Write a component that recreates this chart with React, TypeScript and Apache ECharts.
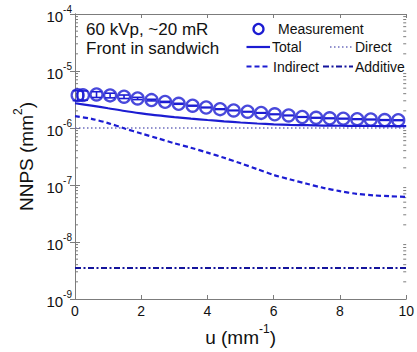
import React, { useEffect, useRef } from 'react';
import * as echarts from 'echarts';

// Spatial frequency grid for the model curves (mm^-1)
const modelFreq = [0, 0.5, 1, 1.5, 2, 2.5, 3, 3.5, 4, 4.5, 5, 5.5, 6, 6.5, 7, 7.5, 8, 8.5, 9, 9.5, 10];
// Model NNPS components (mm^2)
const totalNnps = [2.72e-6, 2.47e-6, 2.22e-6, 1.99e-6, 1.81e-6, 1.66e-6, 1.55e-6, 1.46e-6, 1.38e-6, 1.31e-6, 1.25e-6, 1.2e-6, 1.16e-6, 1.135e-6, 1.12e-6, 1.105e-6, 1.095e-6, 1.09e-6, 1.085e-6, 1.08e-6, 1.08e-6];
const directNnps = [1e-6, 1e-6, 1e-6, 1e-6, 1e-6, 1e-6, 1e-6, 1e-6, 1e-6, 1e-6, 1e-6, 1e-6, 1e-6, 1e-6, 1e-6, 1e-6, 1e-6, 1e-6, 1e-6, 1e-6, 1e-6];
const indirectNnps = [1.61e-6, 1.45e-6, 1.22e-6, 9.8e-7, 8.0e-7, 6.6e-7, 5.4e-7, 4.5e-7, 3.7e-7, 3.0e-7, 2.4e-7, 1.9e-7, 1.5e-7, 1.25e-7, 1.05e-7, 8.9e-8, 7.8e-8, 7.0e-8, 6.6e-8, 6.35e-8, 6.2e-8];
const additiveNnps = [3.5e-9, 3.5e-9, 3.5e-9, 3.5e-9, 3.5e-9, 3.5e-9, 3.5e-9, 3.5e-9, 3.5e-9, 3.5e-9, 3.5e-9, 3.5e-9, 3.5e-9, 3.5e-9, 3.5e-9, 3.5e-9, 3.5e-9, 3.5e-9, 3.5e-9, 3.5e-9, 3.5e-9];

// Measured NNPS with error bars
const measuredFreq = [0.08, 0.24, 0.65, 1.06, 1.48, 1.89, 2.31, 2.72, 3.13, 3.55, 3.96, 4.38, 4.79, 5.21, 5.62, 6.03, 6.45, 6.86, 7.28, 7.69, 8.1, 8.52, 8.93, 9.35, 9.76];
const measuredNnps = [3.77e-6, 3.77e-6, 3.88e-6, 3.73e-6, 3.54e-6, 3.3e-6, 3.09e-6, 2.87e-6, 2.66e-6, 2.46e-6, 2.29e-6, 2.14e-6, 2.03e-6, 1.93e-6, 1.84e-6, 1.74e-6, 1.66e-6, 1.56e-6, 1.51e-6, 1.48e-6, 1.46e-6, 1.43e-6, 1.41e-6, 1.38e-6, 1.37e-6];
const measuredErr = [7.5e-7, 7.0e-7, 4.5e-7, 3.5e-7, 2.5e-7, 1.5e-7, 1.0e-7, 6e-8, 5e-8, 4e-8, 3e-8, 3e-8, 2e-8, 2e-8, 2e-8, 2e-8, 2e-8, 2e-8, 2e-8, 2e-8, 2e-8, 2e-8, 2e-8, 2e-8, 2e-8];

// Axis ranges and ticks
const yMin = 1e-9;
const yMax = 1e-4;
const yDecades = [-9, -8, -7, -6, -5];
const minorMultipliers = [2, 3, 4, 5, 6, 7, 8, 9];
const xMin = 0;
const xMax = 10;
const xStep = 2;

const FONT = '"Liberation Sans", Arial, Helvetica, sans-serif';
const BLUE = '#1c1cd2';
const DARK_BLUE = '#14149c';
const DOT_BLUE = '#6e6ebe';
const AXIS_GRAY = '#7c7c7c';

const pairs = (xs: number[], ys: number[]) => xs.map((x, i) => [x, ys[i]]);

export default function App() {
  const ref = useRef<HTMLDivElement>(null);

  useEffect(() => {
    if (!ref.current) return;
    const chart = echarts.init(ref.current, undefined, { renderer: 'svg' });

    const minorTicks: number[] = [];
    yDecades.forEach((p) => minorMultipliers.forEach((m) => minorTicks.push(m * Math.pow(10, p))));

    const axisLineStyle = { color: AXIS_GRAY, width: 1 };

    const option: any = {
      animation: false,
      backgroundColor: '#ffffff',
      grid: { left: 75, right: 5, top: 14, bottom: 51, containLabel: false },
      xAxis: [
        {
          type: 'value',
          min: xMin,
          max: xMax,
          interval: xStep,
          position: 'bottom',
          axisLine: { show: true, lineStyle: axisLineStyle },
          axisTick: { show: true, inside: true, length: 4, lineStyle: axisLineStyle },
          splitLine: { show: false },
          axisLabel: { color: '#111', fontFamily: FONT, fontSize: 14, margin: 5 },
          name: '{t|u (mm}{s|-1}{t|)}',
          nameLocation: 'middle',
          nameGap: 24,
          nameTextStyle: {
            rich: {
              t: { fontFamily: FONT, fontSize: 19, color: '#111', lineHeight: 24, verticalAlign: 'bottom' },
              s: { fontFamily: FONT, fontSize: 12, color: '#111', lineHeight: 12, verticalAlign: 'top' },
            },
          },
        },
        {
          type: 'value',
          min: xMin,
          max: xMax,
          interval: xStep,
          position: 'top',
          axisLine: { show: true, lineStyle: axisLineStyle },
          axisTick: { show: true, inside: true, length: 4, lineStyle: axisLineStyle },
          splitLine: { show: false },
          axisLabel: { show: false },
        },
      ],
      yAxis: [
        {
          type: 'log',
          logBase: 10,
          min: yMin,
          max: yMax,
          splitNumber: 5,
          position: 'left',
          axisLine: { show: true, lineStyle: axisLineStyle },
          axisTick: { show: true, inside: true, length: 5, lineStyle: axisLineStyle },
          splitLine: { show: false },
          axisLabel: {
            margin: 3,
            formatter: (v: number) => `{b|10}{s|${Math.round(Math.log10(v))}}`,
            rich: {
              b: { fontFamily: FONT, fontSize: 15, color: '#111', lineHeight: 20, verticalAlign: 'bottom' },
              s: { fontFamily: FONT, fontSize: 10, color: '#111', lineHeight: 8, verticalAlign: 'top' },
            },
          },
          name: '{t|NNPS (mm}{s|2}{t|)}',
          nameLocation: 'middle',
          nameGap: 33,
          nameRotate: 90,
          nameTextStyle: {
            rich: {
              t: { fontFamily: FONT, fontSize: 19, color: '#111', lineHeight: 24, verticalAlign: 'bottom' },
              s: { fontFamily: FONT, fontSize: 12, color: '#111', lineHeight: 12, verticalAlign: 'top' },
            },
          },
        },
        {
          type: 'log',
          logBase: 10,
          min: yMin,
          max: yMax,
          splitNumber: 5,
          position: 'right',
          axisLine: { show: true, lineStyle: axisLineStyle },
          axisTick: { show: true, inside: true, length: 5, lineStyle: axisLineStyle },
          splitLine: { show: false },
          axisLabel: { show: false },
        },
      ],
      series: [
        {
          // minor log ticks on the left and right frame edges
          type: 'custom',
          silent: true,
          clip: false,
          data: minorTicks.map((v) => [xMin, v]),
          encode: { x: 0, y: 1 },
          renderItem: (_params: any, api: any) => {
            const v = api.value(1);
            const l = api.coord([xMin, v]);
            const r = api.coord([xMax, v]);
            const style = { stroke: AXIS_GRAY, lineWidth: 1 };
            return {
              type: 'group',
              children: [
                { type: 'line', shape: { x1: l[0], y1: l[1], x2: l[0] + 3, y2: l[1] }, style },
                { type: 'line', shape: { x1: r[0] - 3, y1: r[1], x2: r[0], y2: r[1] }, style },
              ],
            };
          },
          z: 1,
        },
        {
          name: 'Additive',
          type: 'line',
          data: pairs(modelFreq, additiveNnps),
          showSymbol: false,
          lineStyle: { color: DARK_BLUE, width: 2, type: [6, 2.5, 2, 2.5] },
          z: 2,
        },
        {
          name: 'Direct',
          type: 'line',
          data: pairs(modelFreq, directNnps),
          showSymbol: false,
          lineStyle: { color: DOT_BLUE, width: 1.5, type: [1.5, 2.5] },
          z: 2,
        },
        {
          name: 'Indirect',
          type: 'line',
          data: pairs(modelFreq, indirectNnps),
          showSymbol: false,
          smooth: 0.3,
          lineStyle: { color: BLUE, width: 2.2, type: [5, 3] },
          z: 3,
        },
        {
          name: 'Total',
          type: 'line',
          data: pairs(modelFreq, totalNnps),
          showSymbol: false,
          smooth: 0.3,
          lineStyle: { color: BLUE, width: 2.2, type: 'solid' },
          z: 3,
        },
        {
          // measurement error bars
          type: 'custom',
          silent: true,
          data: measuredFreq.map((u, i) => [u, measuredNnps[i] - measuredErr[i], measuredNnps[i] + measuredErr[i]]),
          encode: { x: 0, y: [1, 2] },
          renderItem: (_params: any, api: any) => {
            const u = api.value(0);
            const lo = api.coord([u, api.value(1)]);
            const hi = api.coord([u, api.value(2)]);
            const w = 5;
            const style = { stroke: BLUE, lineWidth: 1.6 };
            return {
              type: 'group',
              children: [
                { type: 'line', shape: { x1: lo[0], y1: lo[1], x2: hi[0], y2: hi[1] }, style },
                { type: 'line', shape: { x1: lo[0] - w, y1: lo[1], x2: lo[0] + w, y2: lo[1] }, style },
                { type: 'line', shape: { x1: hi[0] - w, y1: hi[1], x2: hi[0] + w, y2: hi[1] }, style },
              ],
            };
          },
          z: 4,
        },
        {
          name: 'Measurement',
          type: 'scatter',
          data: pairs(measuredFreq, measuredNnps),
          symbol: 'circle',
          symbolSize: 12,
          itemStyle: { color: 'rgba(0,0,0,0)', borderColor: BLUE, borderWidth: 2.3 },
          z: 5,
        },
      ],
      graphic: [
        {
          type: 'text',
          left: 86,
          top: 21,
          style: { text: '60 kVp, ~20 mR', font: `17px ${FONT}`, fill: '#111' },
        },
        {
          type: 'text',
          left: 86,
          top: 40,
          style: { text: 'Front in sandwich', font: `17px ${FONT}`, fill: '#111' },
        },
        // legend
        {
          type: 'circle',
          shape: { cx: 258.5, cy: 29, r: 5 },
          style: { fill: 'none', stroke: BLUE, lineWidth: 2.3 },
        },
        { type: 'text', x: 278, y: 29, style: { text: 'Measurement', font: `14px ${FONT}`, fill: '#111', verticalAlign: 'middle' } },
        {
          type: 'line',
          shape: { x1: 246.5, y1: 47, x2: 270, y2: 47 },
          style: { stroke: BLUE, lineWidth: 2.2 },
        },
        { type: 'text', x: 272, y: 47, style: { text: 'Total', font: `14px ${FONT}`, fill: '#111', verticalAlign: 'middle' } },
        {
          type: 'line',
          shape: { x1: 330, y1: 47, x2: 353, y2: 47 },
          style: { stroke: DOT_BLUE, lineWidth: 1.5, lineDash: [1.5, 2.5] },
        },
        { type: 'text', x: 355, y: 47, style: { text: 'Direct', font: `14px ${FONT}`, fill: '#111', verticalAlign: 'middle' } },
        {
          type: 'line',
          shape: { x1: 246.5, y1: 66.5, x2: 270, y2: 66.5 },
          style: { stroke: BLUE, lineWidth: 2.2, lineDash: [5, 3] },
        },
        { type: 'text', x: 273, y: 66.5, style: { text: 'Indirect', font: `14px ${FONT}`, fill: '#111', verticalAlign: 'middle' } },
        {
          type: 'line',
          shape: { x1: 323, y1: 66.5, x2: 353, y2: 66.5 },
          style: { stroke: DARK_BLUE, lineWidth: 2, lineDash: [6, 2.5, 2, 2.5] },
        },
        { type: 'text', x: 355, y: 66.5, style: { text: 'Additive', font: `14px ${FONT}`, fill: '#111', verticalAlign: 'middle' } },
      ],
    };

    chart.setOption(option);
    return () => chart.dispose();
  }, []);

  return (
    <div
      ref={ref}
      style={{ position: 'fixed', left: 0, top: 0, width: 417, height: 352, background: '#ffffff' }}
    />
  );
}
